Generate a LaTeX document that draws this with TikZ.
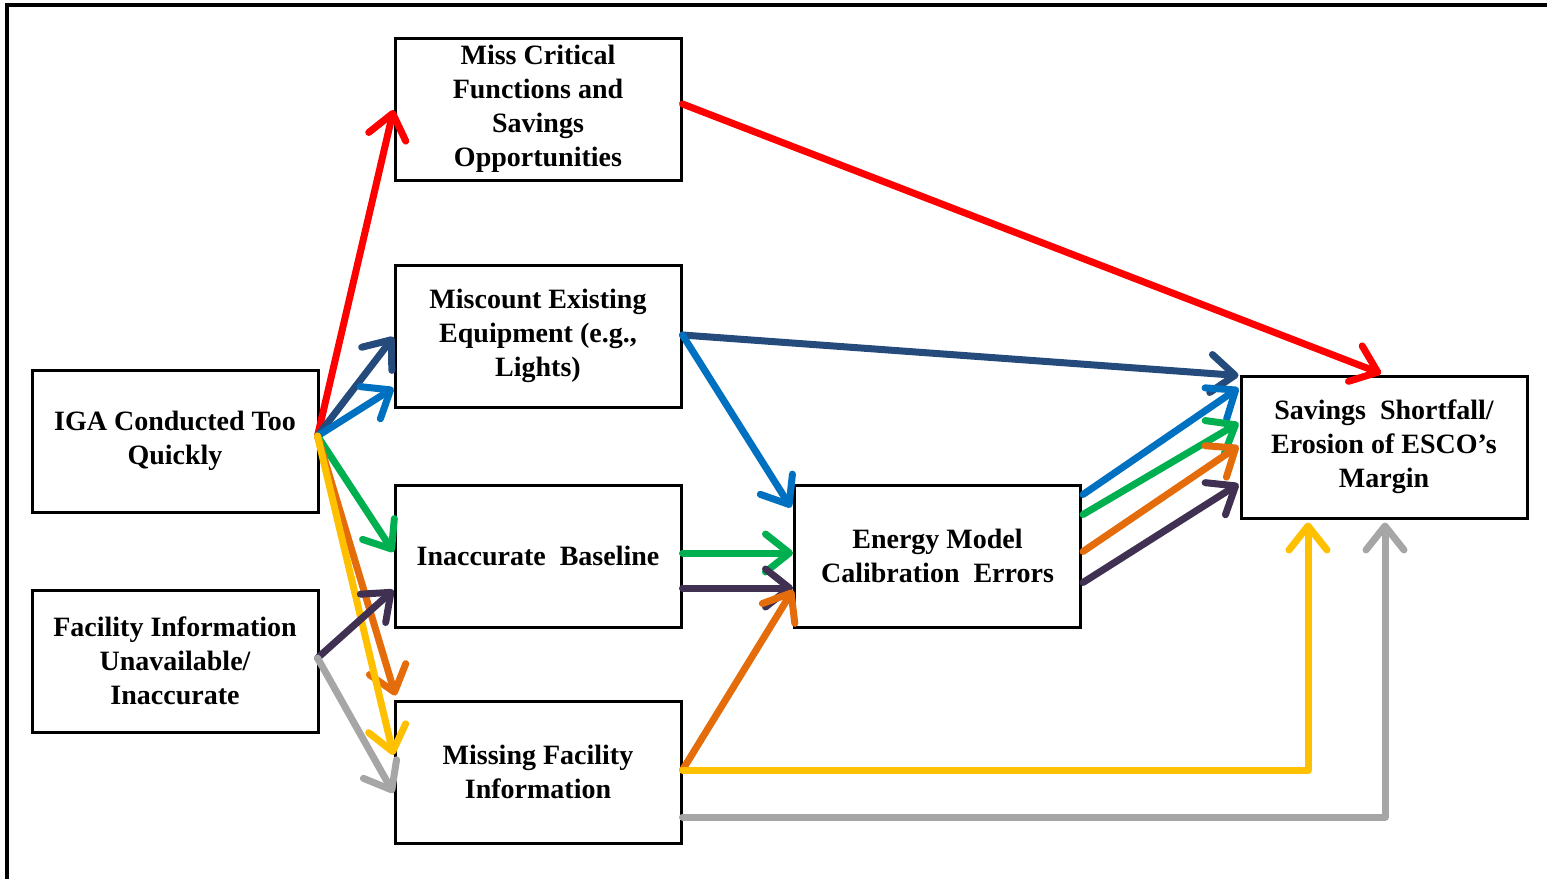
\documentclass[tikz,border=0pt]{standalone}
\usepackage{fontspec}
\setmainfont{Liberation Serif}
\usetikzlibrary{arrows.meta,calc}

\definecolor{cred}{HTML}{FF0000}
\definecolor{cnavy}{HTML}{254A7C}
\definecolor{cblue}{HTML}{0070C0}
\definecolor{cgreen}{HTML}{00B050}
\definecolor{corange}{HTML}{E46C0A}
\definecolor{cyellow}{HTML}{FFC000}
\definecolor{cpurple}{HTML}{403152}
\definecolor{cgray}{HTML}{A6A6A6}

\tikzset{
  box/.style={draw=black, line width=3pt, fill=white, minimum width=286pt,
    minimum height=142pt, align=center, inner sep=0pt,
    font=\bfseries\fontsize{28}{34}\selectfont},
  flow/.style={line width=7pt, line cap=round, line join=round,
    -{Straight Barb[length=24pt, width=38pt, line cap=round, line join=round]}},
}

\begin{document}
\begin{tikzpicture}[x=1pt, y=-1pt]
\useasboundingbox (0,0) rectangle (1547,878);
\clip (0,0) rectangle (1547,878);

% outer frame
\draw[line width=3.5pt] (7,880) -- (7,5) -- (1550,5);

% boxes
\node[box] (iga)      at (175,441)  {IGA Conducted Too\\Quickly};
\node[box] (facility) at (175,661)  {Facility Information\\Unavailable/\\Inaccurate};
\node[box] (miss)     at (538,109)  {Miss Critical\\Functions and\\Savings\\Opportunities};
\node[box] (miscount) at (538,336)  {Miscount Existing\\Equipment (e.g.,\\Lights)};
\node[box] (baseline) at (538,556)  {Inaccurate~ Baseline};
\node[box] (missing)  at (538,772)  {Missing Facility\\Information};
\node[box] (energy)   at (937.5,556){Energy Model\\Calibration~ Errors};
\node[box] (savings)  at (1384,447) {Savings~ Shortfall/\\Erosion of ESCO’s\\Margin};

% from the rushed assessment
\draw[flow, cred]    ($(iga.east)+(-2,-5)$) -- ($(miss.west)+(0,1)$);
\draw[flow, cnavy]   ($(iga.east)+(-2,-5)$) -- ($(miscount.west)+(0,1)$);
\draw[flow, cblue]   ($(iga.east)+(-2,-5)$) -- ($(miscount.west)+(0,52)$);
\draw[flow, cgreen]  ($(iga.east)+(-2,-5)$) -- ($(baseline.west)+(0,-4)$);
\draw[flow, corange] ($(iga.east)+(-2,-5)$) -- ($(missing.north west)+(2,-4)$);
\draw[flow, cyellow] ($(iga.east)+(-2,-5)$) -- ($(missing.west)+(0,-17)$);

% from unavailable facility information
\draw[flow, cpurple] ($(facility.east)+(-2,-3)$) -- ($(baseline.west)+(0,34)$);
\draw[flow, cgray]   ($(facility.east)+(-2,-3)$) -- ($(missing.west)+(0,21)$);

% second stage
\draw[flow, cred]    ($(miss.east)+(0,-5)$) -- ($(savings.north)+(-3,-1)$);
\draw[flow, cnavy]   ($(miscount.east)+(0,-1)$) -- ($(savings.north west)+(-1,1)$);
\draw[flow, cblue]   ($(miscount.east)+(0,-1)$) -- ($(energy.north west)+(-2,24)$);
\draw[flow, cgreen]  ($(baseline.east)+(0,-3)$) -- ($(energy.west)+(0,-3)$);
\draw[flow, cpurple] ($(baseline.east)+(0,32)$) -- ($(energy.west)+(0,32)$);
\draw[flow, corange] ($(missing.east)+(0,-2)$) -- ($(energy.west)+(0,34)$);
\draw[flow, cyellow] ($(missing.east)+(0,-2)$) -| ($(savings.south)+(-76,3)$);
\draw[flow, cgray]   ($(missing.east)+(0,45)$) -| ($(savings.south)+(1,3)$);

% from the calibration errors
\draw[flow, cblue]   ($(energy.north east)+(1,11)$) -- ($(savings.west)+(-1,-59)$);
\draw[flow, cgreen]  ($(energy.north east)+(1,31)$) -- ($(savings.west)+(-1,-24)$);
\draw[flow, corange] ($(energy.north east)+(1,68)$) -- ($(savings.west)+(-1,-1)$);
\draw[flow, cpurple] ($(energy.north east)+(1,99)$) -- ($(savings.west)+(-1,37)$);
\end{tikzpicture}
\end{document}
